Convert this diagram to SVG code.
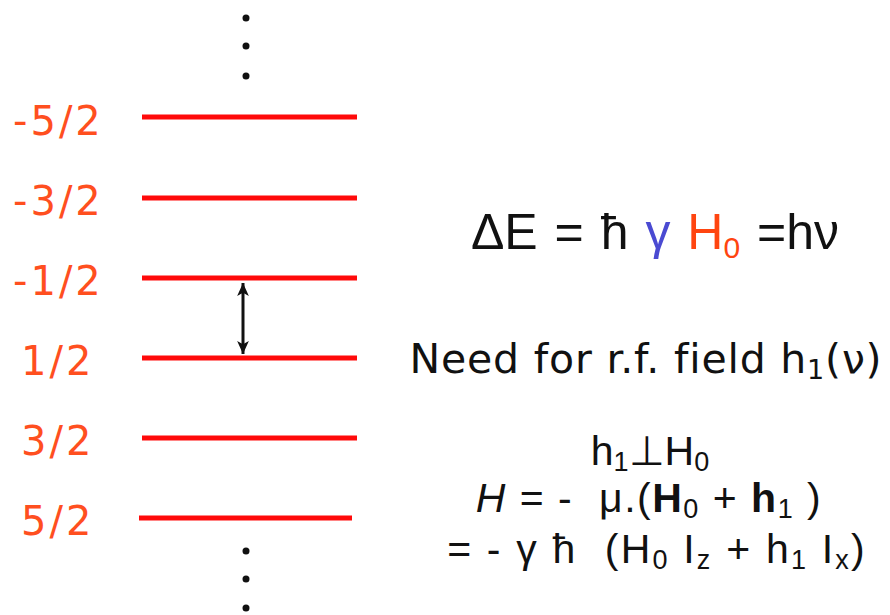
<svg xmlns="http://www.w3.org/2000/svg" width="890" height="615" viewBox="0 0 890 615">
<defs>
<style>
.lvl{stroke:#ff0a0a;stroke-width:5;}
.lbl{font-family:"DejaVu Sans",sans-serif;font-size:40px;fill:#ff4f1f;letter-spacing:3px;}
.dot{fill:#111;}
.eq{font-family:"Liberation Sans",Arial,sans-serif;fill:#111;text-anchor:middle;}
.tx{font-family:"DejaVu Sans",sans-serif;fill:#111;text-anchor:middle;}
.sb{font-size:27px;}
</style>
<marker id="ah" viewBox="0 0 10 10" refX="10" refY="5" markerWidth="14" markerHeight="13" orient="auto-start-reverse" markerUnits="userSpaceOnUse">
<path d="M0,0.5 L10,5 L0,9.5 L2.5,5 z" fill="#111"/>
</marker>
</defs>
<rect width="890" height="615" fill="#fff"/>
<g id="dots-top"><circle class="dot" cx="246" cy="18" r="3.5"/><circle class="dot" cx="246" cy="46" r="3.5"/><circle class="dot" cx="246" cy="76" r="3.5"/></g>
<g id="dots-bottom"><circle class="dot" cx="246" cy="551" r="3.5"/><circle class="dot" cx="246" cy="579" r="3.5"/><circle class="dot" cx="246" cy="608" r="3.5"/></g>
<g id="level-m52"><line class="lvl" x1="142" y1="117" x2="357" y2="117"/><text class="lbl" x="13" y="135">-5/2</text></g>
<g id="level-m32"><line class="lvl" x1="142" y1="198" x2="357" y2="198"/><text class="lbl" x="13" y="215">-3/2</text></g>
<g id="level-m12"><line class="lvl" x1="142" y1="278" x2="357" y2="278"/><text class="lbl" x="13" y="295">-1/2</text></g>
<g id="level-p12"><line class="lvl" x1="142" y1="358" x2="357" y2="358"/><text class="lbl" x="21" y="375">1/2</text></g>
<g id="level-p32"><line class="lvl" x1="142" y1="438" x2="357" y2="438"/><text class="lbl" x="21" y="455">3/2</text></g>
<g id="level-p52"><line class="lvl" x1="139" y1="518" x2="352" y2="518"/><text class="lbl" x="21" y="535">5/2</text></g>
<g id="connectors"><line x1="243" y1="283" x2="243" y2="354" stroke="#111" stroke-width="3" marker-start="url(#ah)" marker-end="url(#ah)"/></g>
<g id="energy"><text class="eq" x="655" y="249" font-size="50" word-spacing="3">ΔE = ħ <tspan fill="#4a4ad2">γ</tspan> <tspan fill="#ff4510">H<tspan font-size="30" dy="9">0</tspan></tspan><tspan dy="-9"> =hν</tspan></text></g>
<g id="need"><text class="tx" x="646" y="373" font-size="41" letter-spacing="0.8">Need for r.f. field h<tspan font-size="27" dy="6">1</tspan><tspan dy="-6">(ν)</tspan></text></g>
<g id="eqs">
<text class="eq" x="650" y="465" font-size="41">h<tspan class="sb" dy="6">1</tspan><tspan dy="-6">⊥H</tspan><tspan class="sb" dy="6">0</tspan></text>
<text class="eq" x="649" y="512" font-size="41" letter-spacing="1.5" xml:space="preserve"><tspan font-style="italic">H</tspan> = -  μ.(<tspan font-weight="bold">H</tspan><tspan class="sb" dy="6">0</tspan><tspan dy="-6"> + </tspan><tspan font-weight="bold">h</tspan><tspan class="sb" dy="6">1</tspan><tspan dy="-6"> )</tspan></text>
<text class="eq" x="657" y="563" font-size="41" letter-spacing="2.2" xml:space="preserve">= - γ ħ  (H<tspan class="sb" dy="6">0</tspan><tspan dy="-6"> I</tspan><tspan class="sb" dy="6">z</tspan><tspan dy="-6"> + h</tspan><tspan class="sb" dy="6">1</tspan><tspan dy="-6"> I</tspan><tspan class="sb" dy="6">x</tspan><tspan dy="-6">)</tspan></text>
</g>
</svg>
